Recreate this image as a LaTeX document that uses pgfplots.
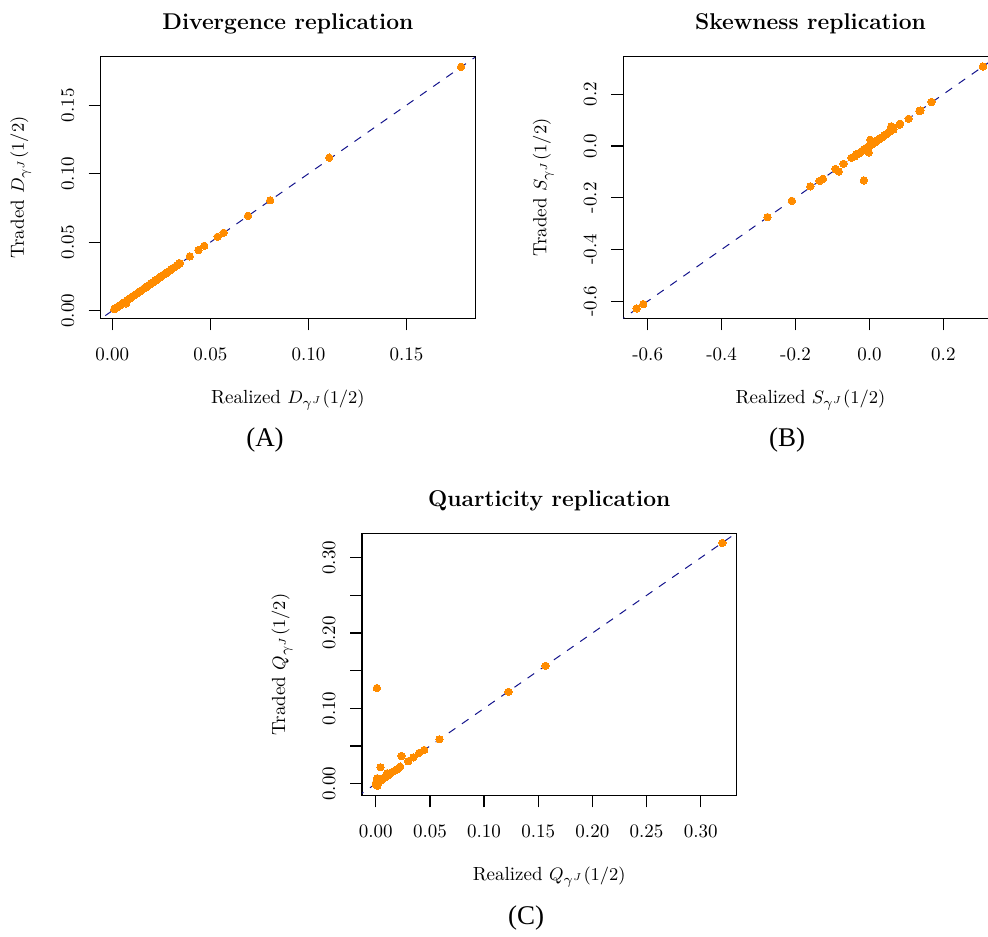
\documentclass[border=0pt]{standalone}
\usepackage{pgfplots}
\pgfplotsset{compat=1.18}
\usepackage{fontspec}
\newfontfamily\capfont{Liberation Serif}
\definecolor{pts}{RGB}{255,140,0}
\definecolor{refline}{RGB}{20,20,140}
\pgfplotsset{rstyle/.style={
  scale only axis, width=187.2pt, height=130.8pt,
  axis line style={line width=0.6pt, black},
  tick align=outside, major tick length=6pt,
  every tick/.style={line width=0.6pt, black},
  xtick pos=bottom, ytick pos=left,
  ticklabel style={font=\fontsize{9.5}{11}\selectfont},
  xticklabel style={anchor=north, inner sep=0pt},
  yticklabel style={rotate=90, anchor=south, inner sep=0pt},
  xticklabel shift=8.6pt, yticklabel shift=7pt,
  title style={font=\bfseries\fontsize{11.4}{13}\selectfont, at={(axis description cs:0.5,1.0791)}, anchor=center, yshift=0pt},
  xlabel style={font=\fontsize{9.5}{11}\selectfont, at={(axis description cs:0.5,-0.3123)}, anchor=center, yshift=0pt},
  ylabel style={font=\fontsize{9.5}{11}\selectfont, at={(axis description cs:-0.2135,0.5)}, anchor=center, yshift=0pt},
  pt/.style={only marks, mark=*, mark size=1.85pt, color=pts, mark options={fill=pts, draw=pts, line width=0pt}},
  ab/.style={refline, line width=0.5pt, dash pattern=on 4pt off 4pt, no marks},
}}
\begin{document}
\begin{tikzpicture}
% Panel A
\begin{axis}[rstyle, at={(50.35pt,308.85pt)}, anchor=south west,
  xmin=-0.0059, xmax=0.185, ymin=-0.0055, ymax=0.1854,
  xtick={0,0.05,0.10,0.15}, xticklabels={0.00,0.05,0.10,0.15},
  ytick={0,0.05,0.10,0.15}, yticklabels={0.00,0.05,0.10,0.15},
  title={Divergence replication},
  xlabel={Realized $D_{\gamma^J}(1/2)$},
  ylabel={Traded $D_{\gamma^J}(1/2)$}]
\addplot[pt] coordinates {
(0.0010,0.0012) (0.0015,0.0018) (0.0020,0.0020) (0.0025,0.0027) (0.0030,0.0030)
(0.0035,0.0036) (0.0040,0.0041) (0.0050,0.0050) (0.0055,0.0056) (0.0060,0.0061)
(0.0070,0.0054) (0.0075,0.0076) (0.0080,0.0080) (0.0090,0.0091) (0.0100,0.0101)
(0.0110,0.0110) (0.0120,0.0121) (0.0130,0.0130) (0.0140,0.0141) (0.0150,0.0150)
(0.0160,0.0161) (0.0170,0.0170) (0.0180,0.0181) (0.0190,0.0190) (0.0200,0.0202)
(0.0210,0.0210) (0.0220,0.0221) (0.0230,0.0230) (0.0240,0.0241) (0.0250,0.0250)
(0.0260,0.0262) (0.0270,0.0270) (0.0280,0.0281) (0.0290,0.0290) (0.0300,0.0301)
(0.0310,0.0312) (0.0320,0.0320) (0.0330,0.0331) (0.0340,0.0344) (0.0345,0.0346)
(0.0395,0.0397) (0.0439,0.0443) (0.0469,0.0474) (0.0537,0.0540) (0.0568,0.0569)
(0.0692,0.0693) (0.0805,0.0806) (0.1106,0.1117) (0.1778,0.1780)
};
\addplot[ab] coordinates {(-1,-1) (1,1)};
\end{axis}
% Panel B
\begin{axis}[rstyle, at={(311.65pt,308.85pt)}, anchor=south west,
  xmin=-0.666, xmax=0.347, ymin=-0.666, ymax=0.345,
  xtick={-0.6,-0.4,-0.2,0,0.2}, xticklabels={-0.6,-0.4,-0.2,0.0,0.2},
  ytick={-0.6,-0.4,-0.2,0,0.2}, yticklabels={-0.6,-0.4,-0.2,0.0,0.2},
  title={Skewness replication},
  xlabel={Realized $S_{\gamma^J}(1/2)$},
  ylabel={Traded $S_{\gamma^J}(1/2)$}]
\addplot[pt] coordinates {
(-0.630,-0.628) (-0.612,-0.611) (-0.276,-0.275) (-0.210,-0.212) (-0.160,-0.156)
(-0.135,-0.135) (-0.126,-0.127) (-0.092,-0.089) (-0.083,-0.099) (-0.070,-0.069)
(-0.049,-0.046) (-0.040,-0.040) (-0.035,-0.033) (-0.030,-0.029) (-0.025,-0.026)
(-0.020,-0.019) (-0.015,-0.014) (-0.010,-0.011) (-0.009,-0.008) (-0.005,-0.004)
(-0.002,-0.025) (0.000,0.001) (0.002,0.024) (0.003,0.004) (0.006,0.005)
(0.010,0.011) (0.015,0.014) (0.020,0.021) (0.025,0.024) (0.030,0.031)
(0.035,0.034) (0.040,0.041) (0.045,0.044) (0.050,0.051) (0.055,0.056)
(0.059,0.076) (0.060,0.062) (0.065,0.064) (0.081,0.082) (0.083,0.086)
(0.106,0.105) (0.135,0.135) (0.138,0.137) (0.168,0.170) (0.307,0.307)
(-0.015,-0.133)
};
\addplot[ab] coordinates {(-1,-1) (1,1)};
\end{axis}
% Panel C
\begin{axis}[rstyle, at={(181pt,70.35pt)}, anchor=south west,
  xmin=-0.0127, xmax=0.333, ymin=-0.0154, ymax=0.332,
  xtick={0,0.05,0.10,0.15,0.20,0.25,0.30}, xticklabels={0.00,0.05,0.10,0.15,0.20,0.25,0.30},
  ytick={0,0.05,0.10,0.15,0.20,0.25,0.30}, yticklabels={0.00,,0.10,,0.20,,0.30},
  title={Quarticity replication},
  xlabel={Realized $Q_{\gamma^J}(1/2)$},
  ylabel={Traded $Q_{\gamma^J}(1/2)$}]
\addplot[pt] coordinates {
(0.0003,-0.0017) (0.0012,0.0072) (0.0015,-0.0027) (0.0000,0.0005) (0.0043,0.0218)
(0.0030,0.0025) (0.0050,0.0045) (0.0070,0.0070) (0.0090,0.0085) (0.0104,0.0138)
(0.0120,0.0115) (0.0141,0.0146) (0.0160,0.0160) (0.0185,0.0182) (0.0200,0.0195)
(0.0225,0.0226) (0.0237,0.0368) (0.0299,0.0298) (0.0348,0.0350) (0.0400,0.0408)
(0.0447,0.0448) (0.0588,0.0590) (0.1226,0.1220) (0.1568,0.1565) (0.3200,0.3197)
(0.0010,0.1270)
};
\addplot[ab] coordinates {(-1,-1) (1,1)};
\end{axis}
\node[font=\capfont\fontsize{13.5}{15}\selectfont] at (132.5pt,248pt) {(A)};
\node[font=\capfont\fontsize{13.5}{15}\selectfont] at (393.5pt,248pt) {(B)};
\node[font=\capfont\fontsize{13.5}{15}\selectfont] at (263pt,9pt) {(C)};
\pgfresetboundingbox
\useasboundingbox (0pt,0pt) rectangle (494pt,468pt);
\end{tikzpicture}
\end{document}
